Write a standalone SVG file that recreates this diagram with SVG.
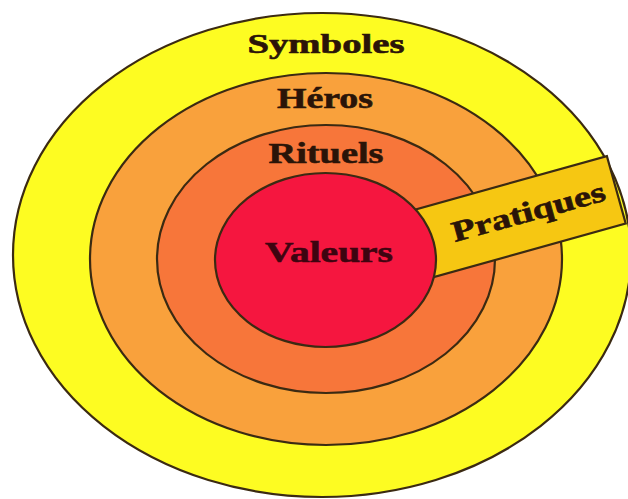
<svg xmlns="http://www.w3.org/2000/svg" width="628" height="499" viewBox="0 0 628 499">
  <style>
    .ring { stroke: #3b2a12; stroke-width: 2.2; }
    .lbl { font-family: "Liberation Serif", "Times New Roman", serif; font-weight: bold; fill: #2a1408; stroke: #2a1408; stroke-width: 0.6; text-anchor: middle; }
  </style>
  <rect width="628" height="499" fill="#ffffff"/>
  <g id="symboles">
    <ellipse class="ring" cx="322" cy="255" rx="309" ry="242" fill="#fdfc22"/>
  </g>
  <g id="heros">
    <ellipse class="ring" cx="326" cy="259" rx="236" ry="186" fill="#f9a13c"/>
  </g>
  <g id="rituels">
    <ellipse class="ring" cx="326" cy="259" rx="169" ry="134" fill="#f7763a"/>
  </g>
  <g id="pratiques">
    <rect class="ring" x="-40" y="0" width="233" height="70" fill="#f6c712" stroke-width="1.8" transform="translate(421 208) rotate(-15.6)"/>
  </g>
  <g id="valeurs">
    <ellipse class="ring" cx="325.5" cy="260" rx="110.5" ry="87" fill="#f5163f"/>
  </g>
  <g id="labels">
    <text class="lbl" x="326" y="53" font-size="27" textLength="157" lengthAdjust="spacingAndGlyphs">Symboles</text>
    <text class="lbl" x="325" y="108" font-size="29" textLength="96" lengthAdjust="spacingAndGlyphs">Héros</text>
    <text class="lbl" x="326" y="163" font-size="30" textLength="115" lengthAdjust="spacingAndGlyphs">Rituels</text>
    <text class="lbl" x="329" y="262" font-size="30" textLength="128" lengthAdjust="spacingAndGlyphs" style="fill:#3e0410;stroke:#3e0410">Valeurs</text>
    <text class="lbl" x="531" y="221" font-size="29" textLength="158" lengthAdjust="spacingAndGlyphs" transform="rotate(-15.4 531 221)">Pratiques</text>
  </g>
</svg>
